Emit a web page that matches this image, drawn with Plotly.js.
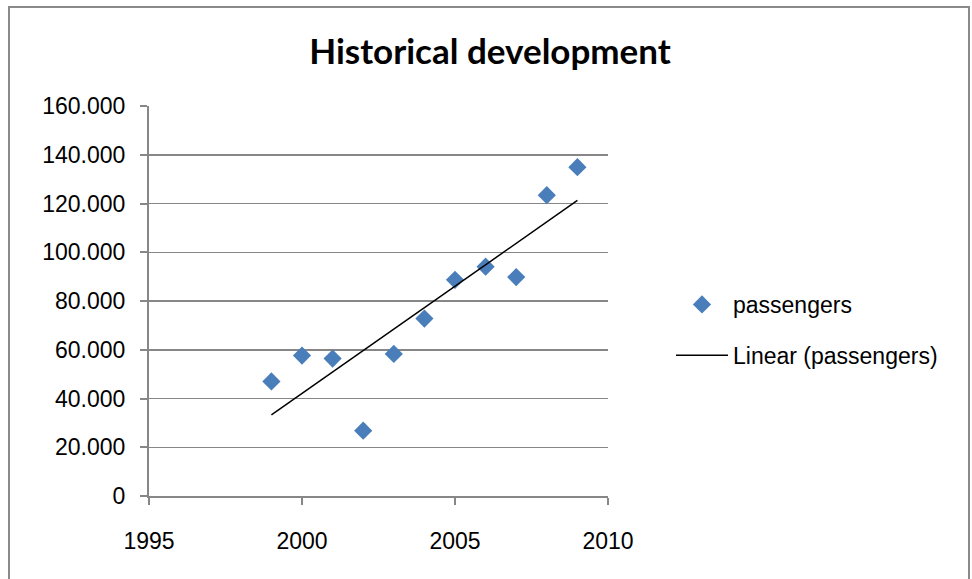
<!DOCTYPE html>
<html>
<head>
<meta charset="utf-8">
<script src="https://cdn.plot.ly/plotly-3.0.1.min.js"></script>
<style>
  html, body { margin: 0; padding: 0; background: #fff; }
  #chart { width: 972px; height: 579px; }
</style>
</head>
<body>
<div id="chart"></div>
<script>
// Passenger counts per year
const years = [1999, 2000, 2001, 2002, 2003, 2004, 2005, 2006, 2007, 2008, 2009];
const passengers = [47000, 57600, 56400, 26800, 58300, 72800, 88700, 94100, 89800, 123400, 134900];

// Axis ticks
const xTicks = [1995, 2000, 2005, 2010];
const yTicks = [0, 20000, 40000, 60000, 80000, 100000, 120000, 140000, 160000];

// Least-squares linear trend over the passenger series
function linearFit(xs, ys) {
  const n = xs.length;
  const mx = xs.reduce((a, b) => a + b, 0) / n;
  const my = ys.reduce((a, b) => a + b, 0) / n;
  let sxy = 0, sxx = 0;
  for (let i = 0; i < n; i++) {
    sxy += (xs[i] - mx) * (ys[i] - my);
    sxx += (xs[i] - mx) * (xs[i] - mx);
  }
  const slope = sxy / sxx;
  return x => my + slope * (x - mx);
}
const trend = linearFit(years, passengers);
const trendX = [years[0], years[years.length - 1]];
const trendY = trendX.map(trend);

const gray = '#878787';
const tickFont = { family: 'Liberation Sans, Arial, sans-serif', size: 23, color: '#000' };

const traces = [
  {
    x: years, y: passengers, type: 'scatter', mode: 'markers',
    name: 'passengers', legendgroup: 'a',
    marker: { symbol: 'diamond', size: 14, color: '#4a7ebb' },
    hoverinfo: 'x+y'
  },
  {
    x: trendX, y: trendY, type: 'scatter', mode: 'lines',
    name: 'Linear (passengers)', legendgroup: 'b',
    line: { color: '#000', width: 1.5 },
    hoverinfo: 'skip'
  }
];

const L = 149, R = 364, T = 106, B = 83;
const pw = 972 - L - R, ph = 579 - T - B;
const px = v => (v - L) / pw;
const py = v => (579 - B - v) / ph;

const layout = {
  width: 972, height: 579,
  margin: { l: L, r: R, t: T, b: B, pad: 0 },
  paper_bgcolor: '#fff', plot_bgcolor: '#fff',
  separators: ',.',
  title: {
    text: '<b>Historical development</b>',
    font: { family: 'Lato, sans-serif', size: 35, color: '#000' },
    x: 490 / 972, xanchor: 'center', xref: 'container',
    y: 1 - 52 / 579, yanchor: 'middle', yref: 'container'
  },
  xaxis: {
    range: [1995, 2010], tickvals: xTicks, ticktext: xTicks.map(String),
    showgrid: false, zeroline: false,
    showline: true, linecolor: gray, linewidth: 2,
    ticks: 'outside', ticklen: 7, tickwidth: 2, tickcolor: gray,
    tickfont: tickFont, ticklabelstandoff: 16, fixedrange: true
  },
  yaxis: {
    range: [0, 160000], tickvals: yTicks, tickformat: ',d',
    showgrid: true, gridcolor: gray, gridwidth: 1.5,
    zeroline: false,
    showline: true, linecolor: gray, linewidth: 2,
    ticks: 'outside', ticklen: 7, tickwidth: 2, tickcolor: gray,
    tickfont: tickFont, ticklabelstandoff: 10, fixedrange: true
  },
  showlegend: true,
  legend: {
    x: px(671), xanchor: 'left', y: py(283), yanchor: 'top',
    font: { family: 'Liberation Sans, Arial, sans-serif', size: 23, color: '#000' },
    tracegroupgap: 18, itemwidth: 52, bgcolor: 'rgba(0,0,0,0)'
  },
  shapes: [
    {
      type: 'rect', xref: 'paper', yref: 'paper',
      x0: px(9), x1: px(969), y0: py(590), y1: py(7),
      line: { color: '#8a8a8a', width: 2 }, fillcolor: 'rgba(0,0,0,0)', layer: 'above'
    }
  ]
};

Plotly.newPlot('chart', traces, layout, { displayModeBar: false, staticPlot: true });
</script>
</body>
</html>
